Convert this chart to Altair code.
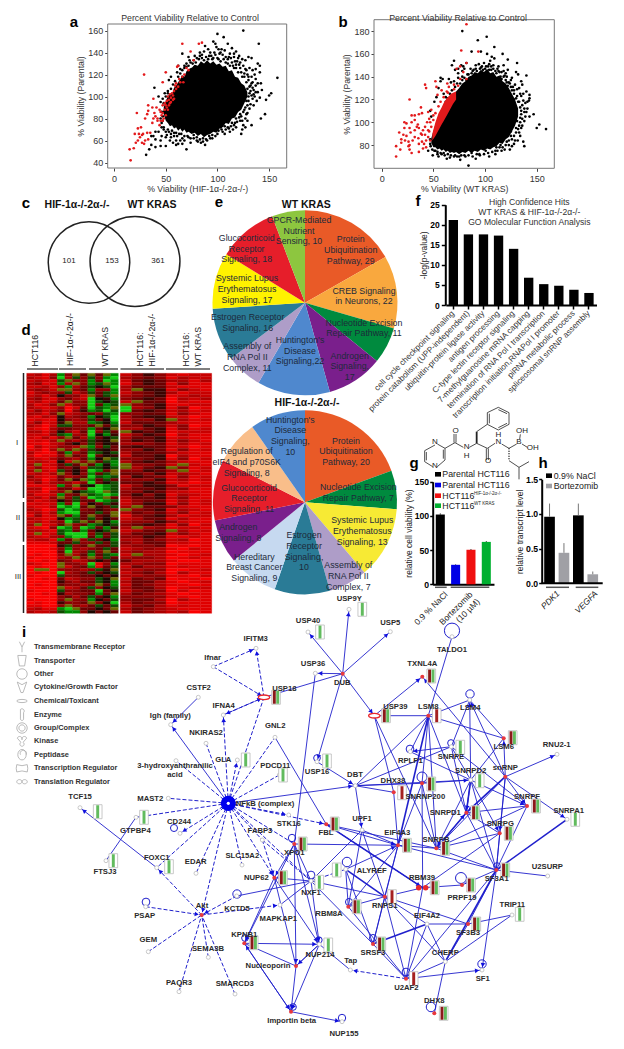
import math
import altair as alt
import pandas as pd

W, H = 608, 1033
FONT = "Liberation Sans"

# ---------- panel a ----------
a_blob_x = [48,50,52,54,56,58,60,62,64,66,68,70,72,75,78,81,84,87,90,93,96,99,102,105,108,111,114,117,120,123,126,129]
a_blob_lo = [84,78,76,73,74,71,72,69,71,68,70,67,68,66,67,64,66,63,65,66,68,67,71,72,76,75,80,81,86,88,94,100]
a_blob_hi = [90,96,100,103,102,108,110,113,116,119,118,123,125,126,129,128,132,130,133,130,132,129,130,127,128,123,124,118,117,112,110,104]
a_black = [(125,160),(100,157),(106,154),(96,150),(98,148),(99,145),(101,143),(110,148),(114,144),(140,148),(91,143),(88,146),(103,140),(108,136),(113,135),(118,141),(116,139),(120,135),(122,131),(127,133),(133,135),(130,136),(139,130),(141,128),(137,125),(141,122),(136,120),(128,124),(134,113),(142,112),(143,106),(139,104),(141,99),(147,97),(158,117),(150,101),(152,103),(146,84),(142,80),(133,74),(127,72),(125,74),(124,70),(123,66),(129,85),(127,80),(122,78),
(70,52),(50,55),(57,58),(60,56),(66,57),(62,57),(45,55),(40,54),(36,56),(31,47),(34,52),(77,62),(84,58),(90,60),(74,58),(68,60),(60,60),(55,63),(50,63),(46,64),(43,68),(40,68),(38,64),(36,64),(45,60),(40,61),(95,65),(92,68),(105,68),(103,72),(110,72),
(39,108),(43,100),(45,95),(47,98),(49,103),(52,105),(53,115),(55,118),(61,122),(66,139),(62,128),(64,125),(66,118),(68,128),(75,125),(78,127),(72,136),(80,135),(85,138),(92,137),(95,134),(100,135),(105,138),(110,130),(115,128),(118,126),(123,122),(126,118),(130,115),(132,110),(135,106),(131,103),(134,98),(132,93),(129,92),(126,88),(122,84),(118,80),(114,76),(108,70),(100,66),(93,62),(86,62),(80,63),(72,63),(65,66),(60,67),(56,69),(52,70),(48,72),(46,76),(47,82),(48,86),(119,132),(125,128),(112,139),(107,142),(97,140),(83,140),(76,130),(70,130),(137,110),(139,112),(133,118),(136,100),(129,78),(118,72),(115,70)]
a_edge = [(72,128),(74,131),(77,133),(79,131),(82,134),(85,135),(87,133),(89,136),(91,134),(94,137),(96,135),(98,138),(101,134),(103,132),(106,134),(108,131),(110,134),(112,128),(114,131),(116,126),(118,129),(120,122),(122,126),(124,118),(126,121),(128,113),(130,118),(131,109),(133,112),(129,107),(132,105),(130,100),(133,101),(130,96),(128,96),(131,89),(127,90),(125,86),(123,82),(121,81),(119,77),(116,74),(113,73),(111,71),(107,73),(104,70),(101,69),(98,64),(95,62),(92,64),(89,61),(86,59),(83,61),(80,60),(77,65),(74,62),(71,64),(68,64),(66,62),(63,66),(61,64),(58,67),(55,66),(53,68),(50,68),(48,70),(46,72),(47,78),(45,80),(46,86),(48,94),(50,100),(52,103),(55,107),(57,111),(59,114),(62,118),(64,121),(66,124),(68,126),(70,127),(73,133),(83,137),(93,140),(102,139),(111,136),(117,132),(121,129),(127,125),(129,120),(134,108),(137,104),(138,96),(135,92),(128,84),(124,78),(117,76),(112,68),(107,66),(88,56),(81,59),(64,60),(54,60),(58,64),(51,65),(121,137),(124,134),(131,126),(134,124),(137,116),(135,102),(116,136),(87,141),(78,137),(104,143)]
a_red = [(16,42),(15,52),(19,53),(21,58),(23,60),(25,63),(27,58),(29,57),(30,60),(24,66),(20,66),(23,71),(26,72),(28,66),(32,67),(35,67),(33,61),(27,65),(22,85),(29,120),(30,80),(32,84),(33,87),(33,92),(37,90),(38,80),(39,85),(37,76),(40,82),(42,80),(44,74),(45,78),(46,83),(42,78),(45,86),(47,92),(49,88),(47,85),(50,92),(51,96),(53,97),(55,99),(57,101),(58,98),(55,95),(53,92),(51,90),(49,94),(52,88),(48,80),(47,78),(50,83),(54,94),(58,105),(56,103),(60,107),(62,109),(64,113),(60,112),(66,118),(68,120),(70,126),(72,124),(67,113),(63,116),(59,110),(66,148),(74,141),(82,148),(85,149),(77,133),(61,127),(62,128),(50,122),(47,113),(38,98),(41,90),(44,88),(57,97),(52,100),(54,102)]

# ---------- panel b ----------
b_blob_x = [48,50,52,54,56,58,60,62,64,66,68,70,72,75,78,81,84,87,90,93,96,99,102,105,108,111,114,117,120,123,126,129,132]
b_blob_lo = [82,78,78,76,77,75,76,74,75,73,74,73,74,72,74,73,75,73,75,74,76,75,77,76,78,79,82,81,85,87,92,97,105]
b_blob_hi = [86,92,98,101,105,107,110,112,116,118,121,125,127,130,134,136,140,141,144,143,146,144,147,143,144,140,141,136,134,130,125,120,112]
b_red_x = [49,52,55,58,60,63,66,69,72]
b_red_lo = [84,88,93,98,101,106,111,116,120]
b_red_hi = [90,100,108,113,117,121,124,126,127]
b_black = [(101.6,175),(93,172),(78,180),(109,166),(87,162),(96,162),(102,160),(106.5,157.5),(109,156),(105,154),(117,160),(122,155),(131,152),(130,144),(132,142),(140,141),(136,133),(140,127),(143,124),(143,121),(142.5,119),(139,117),(138,109),(140,109),(147,107),(143,105),(152.5,98),(150,95),(159,94),(137,83),(131.6,84),(126,79),(119,76),(138,79),(135,95),(133,91),(131,101),(127,108),(120,143),(118,145),(119,141),(121,135),
(70,154),(68,150),(71,146),(74,147),(77,150),(79,149),(82,152),(86,147),(91,147),(96,148),(101,149),(106,149),(112,147),(57,139),(59,138),(57,136),(65,138),(67,135),(70,136),(84,62),(45,75),(49.4,71),(54,72),(58,72),(66,69),(75,70),(87,73),(94.5,72),(100.6,75),(47.4,79),(52,75),(61,71),(71,71),(80,71),(111,78),(115,80),(121,83),(126,85),(130,91),(133,97),(134,104),(135,110),(133,118),(131,123),(128,128),(125,131),(123,135),(115,140),(110,145),(104,146),(98,146),(88,145),(83,142),(78,140),(74,139),(114,144),(128,120),(136,115),(138,101),(125,92),(118,86),(112,83),(60,125),(62,122),(55,130),(47,110),(51,118),(48,105),(53,122)]
b_edge = [(76,134),(78,137),(80,139),(82,137),(84,142),(87,143),(89,146),(92,145),(95,147),(97,149),(100,147),(103,149),(106,146),(108,147),(111,143),(113,145),(116,138),(118,140),(120,137),(122,132),(124,134),(126,128),(128,125),(130,121),(132,118),(134,113),(135,107),(136,103),(134,100),(132,94),(130,95),(128,88),(125,88),(123,84),(120,80),(117,78),(114,78),(110,75),(107,74),(103,73),(99,72),(95,71),(92,72),(88,70),(84,71),(81,70),(77,71),(73,70),(70,70),(67,71),(64,72),(60,73),(57,73),(54,74),(51,75),(49,76),(47,81),(47,85),(62,118),(64,121),(66,125),(68,128),(71,131),(73,134),(91,150),(94,151),(99,152),(104,151),(108,150),(113,149),(116,144),(121,140),(125,137),(129,133),(131,129),(134,125),(137,119),(138,112),(136,97),(134,88),(129,84),(123,80),(116,75),(110,72),(104,70),(91,68),(76,67),(63,68),(55,70),(74,143),(78,145),(80,147),(127,131),(133,130),(137,125),(141,112),(139,105),(128,81),(124,76),(112,75),(141,118),(135,123),(135,136),(126,139),(122,146),(118,150)]
b_red = [(82,186),(77,163),(93.5,162),(27,120),(14,70),(14,79),(18,76),(26,79),(27,76),(29,73),(36,74),(40,77),(43,78),(17,91),(21,89),(19,85),(22.6,84),(19,82),(26,83),(27,80),(22,100),(24,99),(29,100),(22,95),(27,95),(32,93),(34,96),(36,95),(40,93),(42,96),(45,93),(39,89),(42,89),(45,87),(32,87),(35.5,86),(39,83),(29,106),(32,106),(36,107),(39,108),(38,113),(32,102),(45,109),(48,111),(50,106),(46,103),(42,133),(43,130),(52,136),(53,131),(54,124),(58,128),(63.5,134),(65,131),(72.5,147),(76,149),(82,152),(79,144),(76,138),(82,138),(70,133),(63,127),(68,124),(48,96),(46,92),(44,100),(47,100),(50,102),(52,108),(55,114),(57,118),(60,122),(64,126),(70,129),(74,132),(43,84),(41,81),(38,90),(35,98),(28,91),(24,88),(30,84),(36,81),(47,84)]

# ---------- panel d ----------
heat_rows = """2313 g4o5 o5og 2464 2122
3214 b3d4 d4gb 3454 1322
2321 do44 g5bg 2565 3313
3412 g3o4 gdog 1465 1411
2231 4g35 dxdb 3555 2111
3432 oo45 g44g 3o66 1421
1343 4d24 d5dg 2456 3122
2313 x442 o5do 3456 1232
3421 4532 bx6g 4565 0323
2312 5o44 bdxd 2o55 0211
3124 o244 b5gd o456 1122
3212 4025 bdgo b346 1401
2423 5046 gdbd b565 2312
3314 o234 54dg 4455 1421
2132 x345 gxdb 3566 2201
1211 x434 d5xb 3446 o312
2412 6o33 gdxg 2555 3211
3202 dd44 5o5d 4465 2401
2103 5544 g5xo 3356 1412
3313 x425 b4d5 o656 1222
2214 dg34 bxg6 2465 0311
2131 4o53 g5xd 3556 1211
1213 o435 d6xo 4656 2421
1102 35x4 d5x6 3345 1312
0312 443o g4d5 5655 2201
1203 o4o4 d6x5 4465 1412
3101 5g35 gdxd 3555 3211
2011 4o54 b5x6 2556 0311
3213 5435 gxod 4456 1402
2321 x2o4 o5dg 3565 3211
3o12 5d5o 5gxg o445 2o21
2411 5463 ddxd o356 o412
3o21 d5x5 bg5o 4465 3o12
2313 o4x4 g5do 5546 2321
4211 5345 bdgd 3654 1412
3302 5o6o g5d5 4446 2312
2413 4424 b5xd 5565 1201
1112 g4o6 xbgd 2466 4122
3301 5524 bbgd 3556 3411
2203 4oxd gbod 4465 2211
3112 g45o dgbg 4646 1321
2314 o4d4 bgo5 3556 2411
3123 x5d5 5bgd 2455 1312
1212 g4b3 x5d6 2466 1412
2113 bgb5 o65d 3o55 4211
3201 dbg4 5654 o456 1321
2313 gbb5 5d5o 3545 2412
1412 o5g5 o56o 1456 3122
3211 xgd5 d5x5 2355 1311
2313 4bdo 5oxg 3446 4211
3o12 5o45 gdxd 4565 1402
2104 bg4b g5g6 3o34 1221
3321 dg5g 5xdo 2355 o312
2o12 dbbb 4d5d 3556 2421
3213 4gbb 5g5d 4465 1121
2331 g5o4 d5xg 3354 2301
1112 55d4 4d5d 4355 2211
0000 6d45 o55d 3445 0101
0001 4g43 45d5 2343 1021
0000 5b34 d4o5 3433 0111
0100 4o35 g5dg 2o33 1012
1000 34o4 o4d5 3443 0121
0010 5423 5x5x 5333 1001
2100 o443 b14g 3344 0111
0100 o245 g15d 2533 1211
0oo0 4443 4d6o 3344 0012
0100 b345 d5xd 2453 0311
1000 d445 5x5x 3344 1102
0010 5234 4dxo 2545 0110
0000 6435 5dxg 3553 1012
0100 5443 4o5g 2543 1101
0000 o235 d4xd 3553 0122
1000 d445 5b5x 2454 0201
0010 6344 5g5o 3543 1011
0000 4535 d5xg 4444 1101
1000 4o44 gx5d 4553 0311
0100 6445 o4xb 3544 0111
1100 4o43 5d5d 2453 1211
2311 gbo5 5x5o 3543 2111
3223 dgg4 x5x5 2543 2301""".split("\n")
heat_colors = {"0":"#fa0000","1":"#e00000","2":"#c80000","3":"#ac0000","4":"#8e0000","5":"#6c0000","6":"#3c0500",
               "x":"#1c0800","o":"#6a6a00","d":"#104c00","g":"#008800","b":"#14d014"}

# ---------- panel e ----------
pie1_vals = [29,22,11,17,22,11,16,17,18,10]
pie1_cols = ["#E95A27","#F9A83E","#008A3E","#7A1F8C","#4F88CE","#AE9DC8","#2A7B96","#FFF200","#E61E2A","#8DC63F"]
pie2_vals = [20,7,13,7,10,9,8,11,8,10]
pie2_cols = ["#E95A27","#008A3E","#F7EA34","#AE9DC8","#2A7B96","#C6D9F0","#7A1F8C","#E61E2A","#F9BE8A","#4F88CE"]
pie_labels = [
 (299,230.7,"GPCR-Mediated\nNutrient\nSensing, 10"),(350.7,250,"Protein\nUbiquitination\nPathway, 29"),
 (246.7,248.7,"Glucocorticoid\nReceptor\nSignaling, 18"),(364,295.8,"CREB Signaling\nin Neurons, 22"),
 (247,289,"Systemic Lupus\nErythematosus\nSignaling, 17"),(247.7,322.3,"Estrogen Receptor\nSignaling, 16"),
 (364,328,"Nucleotide Excision\nRepair Pathway, 11"),(300,350.7,"Huntington's\nDisease\nSignaling,22"),
 (247.3,357,"Assembly of\nRNA Pol II\nComplex, 11"),(349.7,366.3,"Androgen\nSignaling,\n17"),
 (290.3,435.7,"Huntington's\nDisease\nSignaling,\n10"),(346,451.3,"Protein\nUbiquitination\nPathway, 20"),
 (246.7,462,"Regulation of\neIF4 and p70S6K\nSignaling, 8"),(358.3,492.5,"Nucleotide Excision\nRepair Pathway, 7"),
 (249,498.3,"Glucocorticoid\nReceptor\nSignaling, 11"),(362.3,531,"Systemic Lupus\nErythematosus\nSignaling, 13"),
 (238.3,532.7,"Androgen\nSignaling, 8"),(304,551.3,"Estrogen\nReceptor\nSignaling,\n10"),
 (254.3,567.3,"Hereditary\nBreast Cancer\nSignaling, 9"),(348.3,576,"Assembly of\nRNA Pol II\nComplex, 7")]

# ---------- panel f ----------
f_cats = ["cell cycle checkpoint signaling","protein catabolism (UPP-independent)","ubiquitin-protein ligase activity","antigen processing","C-type lectin receptor signaling","7-methylguanosine mRNA capping","termination of RNA Pol I transcription","transcription initiation,RNAPol I promoter","piRNA metabolic process","spliceosomal snRNP assembly"]
f_vals = [21.2,17.6,17.6,17.3,14,6.8,5.2,4.8,3.8,3]

# ---------- panels g, h ----------
g_cats = ["NaCl","Parental","HIF","WT"]
g_vals = [102,28.5,50.5,62]
g_errs = [103.5,29.2,51.5,63]
g_cols = ["#000000","#0000E6","#F01010","#00B030"]
h_cats = ["PDK1 NaCl","PDK1 Bort","VEGFA NaCl","VEGFA Bort"]
h_vals = [0.96,0.44,0.98,0.13]
h_errs = [1.15,0.58,1.15,0.17]
h_cols = ["#000000","#A0A0A5","#000000","#A0A0A5"]

chem_solid = [(44,782,75,765),(44,782,44,815),(49,786,49,811),(44,815,68,830),(82,830,105,810),(105,810,105,775),(100,806,100,779),(82,762,105,775),
 (105,775,135,758),(132,758,132,732),(138,758,138,732),(135,758,160,772),(178,772,200,760),(200,725,232,703),
 (232,668,265,652),(265,652,297,668),(297,668,297,703),(297,703,265,720),(265,720,232,703),(232,703,232,668),(238,700,238,671),(265,659,291,671),(291,700,265,713),
 (200,760,232,775),(229,775,229,810),(235,775,235,810),(232,775,255,760),(275,762,297,775),(297,775,320,762),(329,748,331,733),(336,762,352,772),
 (297,812,327,832),(327,832,357,815),(327,832,327,868)]
chem_wedge = [(200,760,200,725)]
chem_dash = [(297,775,297,812)]
chem_atoms = [(75,757,"N"),(75,828,"N"),(137,722,"O"),(170,770,"N"),(170,798,"H"),(234,812,"O"),(265,755,"N"),(265,735,"H"),(327,757,"B"),(336,722,"OH"),(368,775,"OH")]

# ---------- panel i ----------
legend_names = ["Transmembrane Receptor","Transporter","Other","Cytokine/Growth Factor","Chemical/Toxicant","Enzyme","Group/Complex","Kinase","Peptidase","Transcription Regulator","Translation Regulator"]
legend_icons = ["M-0.5,-1L0,0L0,1M0.5,-1L0,0","M-0.8,-1L0.8,-1L0.5,1L-0.5,1Z","M-1,0A1,1 0 1 1 1,0A1,1 0 1 1 -1,0Z",
 "M-0.9,-1L0,-0.5L0.9,-1L0.2,1L-0.2,1Z","M-1,0A1,0.3 0 1 1 1,0A1,0.3 0 1 1 -1,0Z","M-0.3,-1A0.4,0.4 0 1 1 0.3,-0.4L0.3,0.8A0.3,0.3 0 1 1 -0.3,0.8Z",
 "M-1,0A1,1 0 1 1 1,0A1,1 0 1 1 -1,0ZM-0.6,0A0.6,0.6 0 1 1 0.6,0A0.6,0.6 0 1 1 -0.6,0Z","M-0.9,-0.6A0.4,0.4 0 1 1 0,-0.3A0.4,0.4 0 1 1 0.9,-0.6L0.2,0.2A0.4,0.4 0 1 1 -0.2,0.2Z",
 "M-0.8,0A0.8,1 0 1 1 0.8,0A0.8,1 0 1 1 -0.8,0ZM-0.3,0A0.6,0.6 0 1 1 0.8,0","M-1,-0.7Q0,-0.3 1,-0.7Q1.2,0 1,0.7Q0,0.3 -1,0.7Q-1.2,0 -1,-0.7Z",
 "M-1,0A0.5,0.4 0 1 1 0,0A0.5,0.4 0 1 1 1,0A0.5,0.4 0 1 1 0,0A0.5,0.4 0 1 1 -1,0Z"]
legend_y = [647,660.7,674,687.3,701,714.7,728,741.3,754.7,768.3,781.7]

nodes = {"NFkB":(228.3,803.3),"IFITM3":(256,648.3),"Ifnar":(213.3,666.7),"CSTF2":(198.3,697.3),"USP18":(264,697.3),"IFNA4":(223.3,715),"Igh":(170.7,724.7),"NKIRAS2":(206,743.3),"GNL2":(275,737.3),"GLA":(237.3,760),"3HAA":(176,760.7),"PDCD11":(279.3,775),"MAST2":(168.3,798.3),"TCF15":(80,807.7),"GTPBP4":(136,817.3),"CD244":(180,833.3),"STK16":(288.7,815),"FABP3":(262.3,840),"XPO1":(294.3,844),"FTSJ3":(106,860.7),"FOXC1":(156.7,867.7),"EDAR":(196,873.3),"SLC15A2":(242,865),"NUP62":(274.3,877.7),"NXF1":(311,881),"ALYREF":(345.7,869.3),"Akt":(201.7,915),"PSAP":(145.7,906.7),"KCTD5":(236.7,896),"MAPKAP1":(280,905),"GEM":(148.3,951.7),"KPNB1":(244.3,943.3),"SEMA3B":(208.3,957.3),"PAQR3":(179,991.7),"SMARCD3":(235,994),"Nucleoporin":(296,966),"Importin":(291,1011.7),"NUP214":(319.3,944.3),"RBM8A":(348.3,906.7),"Tap":(350.3,970),"NUP155":(342,1021.7),"USP9Y":(349,609.3),"USP40":(308,632),"USP5":(390.3,631.7),"TALDO1":(452,636.7),"TXNL4A":(422.3,676.7),"DUB":(342.7,673.7),"USP36":(315.3,673.3),"USP39":(374.3,715.7),"LSM8":(428.3,715.7),"LSM4":(469.7,700),"LSM6":(503.7,738.3),"RNU2":(557,754.3),"SNRPE":(451.3,746.7),"RPLP1":(410.3,751.7),"snRNP":(505.3,776.7),"SNRPD2":(470.7,780),"DBT":(355.3,785.7),"DHX38":(393.7,792.3),"SNRNP200":(422,783.3),"USP16":(317,761.7),"FBL":(326.3,824.3),"UPF1":(362,830),"EIF4A3":(398,845.3),"SNRPD1":(466.3,812.7),"SNRPF":(527,806),"SNRPA1":(567,819.3),"SNRPG":(499.7,833.3),"SNRPB":(436.3,848.3),"SF3A1":(496.3,870),"U2SURP":(547.7,876),"RBM39":(422.7,887.7),"PRPF19":(462,885),"RNPS1":(384.7,896.7),"TRIP11":(512,915),"SF3B3":(468,924),"EIF4A2":(427,924),"SRSF3":(373,944),"CHERP":(445.3,961.7),"U2AF2":(406,978.7),"SF1":(482,970),"DHX8":(434.3,1013.3)}
labels = [(265,804,"NFkB (complex)"),(255.7,639,"IFITM3"),(212.7,658,"Ifnar"),(198.7,688.3,"CSTF2"),(284.3,689,"USP18"),(223.7,706,"IFNA4"),(170.3,716,"Igh (family)"),(206,732.7,"NKIRAS2"),(275.3,726,"GNL2"),(223.3,760,"GLA"),(175,770,"3-hydroxyanthranilic\nacid"),(275.3,766,"PDCD11"),(150.3,799,"MAST2"),(80,797.3,"TCF15"),(135.3,830.7,"GTPBP4"),(179,822,"CD244"),(288.7,824,"STK16"),(260,831.3,"FABP3"),(294.3,853,"XPO1"),(105,872.3,"FTSJ3"),(156.7,858,"FOXC1"),(195.7,862,"EDAR"),(242.3,856,"SLC15A2"),(256.3,877.7,"NUP62"),(311,893.3,"NXF1"),(371.7,870.7,"ALYREF"),(202,906,"Akt"),(144.7,915.7,"PSAP"),(237,909.3,"KCTD5"),(278.3,919,"MAPKAP1"),(148.3,940,"GEM"),(244.3,934.7,"KPNB1"),(208,948.7,"SEMA3B"),(179,982.7,"PAQR3"),(234.7,984,"SMARCD3"),(268,966,"Nucleoporin"),(291.7,1021.3,"Importin beta"),(320,955.3,"NUP214"),(329,914.3,"RBM8A"),(350.7,961.3,"Tap"),(344,1033.7,"NUP155"),(349.3,599.3,"USP9Y"),(308,621,"USP40"),(390.3,622.7,"USP5"),(452,650.3,"TALDO1"),(422.3,664.3,"TXNL4A"),(342.3,682.7,"DUB"),(313,664,"USP36"),(395.3,707,"USP39"),(428.3,706.7,"LSM8"),(470.3,707.7,"LSM4"),(503.7,747,"LSM6"),(556.7,745,"RNU2-1"),(451,757,"SNRPE"),(410.3,761.3,"RPLP1"),(505.3,768,"snRNP"),(470.7,771,"SNRPD2"),(355,775.3,"DBT"),(393,780.7,"DHX38"),(425.3,796.7,"SNRNP200"),(317,771.7,"USP16"),(326,833.3,"FBL"),(362,819,"UPF1"),(397.3,833.3,"EIF4A3"),(445.3,812.7,"SNRPD1"),(527,797.3,"SNRPF"),(568.7,810.7,"SNRPA1"),(500.3,824.3,"SNRPG"),(436,839.7,"SNRPB"),(496.7,879.3,"SF3A1"),(547.3,867,"U2SURP"),(422,878.3,"RBM39"),(462,897.7,"PRPF19"),(384.7,906,"RNPS1"),(512.3,905.3,"TRIP11"),(468,933,"SF3B3"),(427,915.7,"EIF4A2"),(373,953.3,"SRSF3"),(445.3,952.7,"CHERP"),(406.3,988,"U2AF2"),(482.7,979,"SF1"),(434.3,1001,"DHX8")]
red_nodes = ["Akt","XPO1","NUP62","KPNB1","Nucleoporin","Importin","FBL","DUB","snRNP","SNRPD1","SNRPF","SNRPG","SNRPB","SF3A1","SF3B3","RNPS1","RBM8A","SRSF3","U2AF2","LSM6","LSM8","SNRNP200","EIF4A3","DHX38","TXNL4A","PRPF19","DHX8"]
glyphs_g = [("GLA",245.7,760),("PDCD11",283,775),("TCF15",97.7,811.7),("GTPBP4",144,817.3),("FTSJ3",113.3,860.7),("FOXC1",169,866.7),("NXF1",319.3,882.3),("ALYREF",336.7,870),("NUP214",328.3,945),("USP9Y",362.3,609.3),("USP40",320,632),("SNRPE",460.3,747.3),("SNRPD2",479.7,780.7),("USP16",327,761),("SNRPA1",575.3,819.3),("TRIP11",519.7,914.3)]
glyphs_rg = [("USP18",276,697.3),("XPO1",302.7,844),("NUP62",283,877.7),("KPNB1",253.7,942.7),("RBM8A",356.7,906.7),("TXNL4A",431.3,676),("USP39",386,715.7),("LSM6",512.7,737.7),("SNRNP200",431.3,784),("FBL",334.7,824),("EIF4A3",407,845.3),("SNRPD1",475.3,812.7),("SNRPF",536,806),("SNRPG",508.7,833.3),("SNRPB",445.3,848.3),("SF3A1",505.3,870),("RBM39",434.7,887.7),("PRPF19",471,885),("SF3B3",476.3,924),("SRSF3",381.3,944),("DHX8",443.7,1013.3)]
glyphs_r = [("LSM8",436.7,715.7),("DHX38",402,792.7),("RNPS1",392,896.7),("U2AF2",413.7,978.7)]
loops = [(292,838,55),(146,902,60),(237,894,70),(245,938,45),(174,828,50),(347,862,90),(311,875,60),(452,630.7,230),(470,694,70),(451,743,45),(410,749,60),(422,777,100),(461,878,120),(349,902,50),(373,938,50),(406,972,60),(482,964,70),(342,1018,55),(431,1007,90),(293,1007,45),(317,758,45),(497,866,45),(319,940,40)]

edge_arrow = [("CSTF2","Igh"),("NFkB","Igh"),("FOXC1","TCF15"),("DUB","USP36"),("DUB","USP39"),("DUB","USP5"),("DUB","USP40"),("DUB","USP16"),("DUB","USP9Y"),("NFkB","DBT"),("USP16","DBT"),("USP39","TXNL4A"),("snRNP","TXNL4A"),("snRNP","LSM4"),("SNRPD2","LSM4"),("snRNP","LSM6"),("snRNP","RNU2"),("snRNP","SNRPF"),("snRNP","SNRPA1"),("snRNP","SNRPD1"),("snRNP","SNRPG"),("SNRPD2","SNRPD1"),("SNRPD2","SNRPF"),("SNRPD2","SNRPG"),("SNRPD2","SNRPB"),("SNRNP200","SNRPD2"),("SNRPE","RPLP1"),("SNRPB","SNRPD1"),("SF3A1","PRPF19"),("SF3A1","SF1"),("FBL","EIF4A3"),("ALYREF","EIF4A3"),("U2AF2","SF1"),("NXF1","NUP214"),("XPO1","KPNB1"),("XPO1","NUP214"),("NUP62","KPNB1"),("NUP62","NUP214"),("KPNB1","NUP214"),("KPNB1","Importin"),("Importin","KPNB1"),("Nucleoporin","Importin"),("NUP214","Nucleoporin"),("Importin","NUP155"),("DBT","UPF1"),("FBL","RBM39"),("XPO1","NUP62"),("NUP214","Importin"),("XPO1","Nucleoporin")]
edge_plain = [("FTSJ3","GTPBP4"),("DUB","USP18"),("USP36","XPO1"),("GNL2","FBL"),("TALDO1","LSM8"),("LSM8","LSM4"),("LSM8","LSM6"),("LSM8","SNRNP200"),("LSM8","SNRPD1"),("LSM8","RPLP1"),("LSM8","DBT"),("USP39","LSM8"),("USP39","SNRPB"),("USP39","DHX38"),("LSM4","LSM6"),("LSM4","SNRPE"),("snRNP","SF3A1"),("snRNP","SNRPB"),("SNRPD2","SF3A1"),("SNRPD2","LSM6"),("SNRPD2","SNRPE"),("SNRPD2","RPLP1"),("SNRPE","SNRPD1"),("SNRPE","SNRPF"),("SNRPD1","SNRPF"),("SNRPD1","SNRPG"),("SNRPD1","SF3A1"),("SNRPB","SNRPF"),("SNRPB","SNRPG"),("SNRPB","EIF4A3"),("SNRPB","SF3A1"),("EIF4A3","SF3A1"),("SNRPF","SF3A1"),("SNRPG","SF3A1"),("SF3A1","U2SURP"),("SF3A1","SF3B3"),("SF3A1","U2AF2"),("RBM39","PRPF19"),("RBM39","U2AF2"),("RBM39","RNPS1"),("RBM39","SNRPG"),("SF3B3","TRIP11"),("SF3B3","EIF4A2"),("CHERP","TRIP11"),("CHERP","EIF4A2"),("SF3B3","CHERP"),("SRSF3","EIF4A3"),("SRSF3","RNPS1"),("SRSF3","U2AF2"),("SRSF3","ALYREF"),("U2AF2","CHERP"),("U2AF2","RNPS1"),("U2AF2","RBM8A"),("U2AF2","EIF4A2"),("DHX8","CHERP"),("DHX38","DBT"),("DHX38","EIF4A3"),("UPF1","EIF4A3"),("UPF1","RNPS1"),("UPF1","RBM8A"),("UPF1","NXF1"),("FBL","SNRPB"),("ALYREF","RBM8A"),("RBM8A","RNPS1"),("RBM8A","EIF4A3"),("RNPS1","NXF1"),("RNPS1","EIF4A3"),("RNPS1","SF3B3"),("RNPS1","CHERP"),("RNPS1","EIF4A2"),("NXF1","MAPKAP1"),("NXF1","XPO1"),("NXF1","NUP62"),("NXF1","SRSF3"),("Nucleoporin","KPNB1"),("NUP62","Nucleoporin"),("Nucleoporin","NUP214"),("NUP214","Tap"),("KCTD5","NXF1"),("DBT","SNRPE"),("DBT","SNRPD2"),("DBT","SNRNP200"),("SNRNP200","EIF4A3"),("SNRNP200","SNRPB"),("SNRNP200","RBM39"),("LSM8","SNRPB"),("XPO1","EIF4A3")]
edge_bold = [("LSM8","EIF4A3"),("SNRPA1","SF3A1"),("SF3A1","CHERP"),("SRSF3","EIF4A2"),("ALYREF","RNPS1"),("FBL","RBM39"),("SNRPD1","SNRPB"),("SNRPD1","snRNP"),("SNRPD2","SNRPD1")]
edge_dash_arrow = [("Ifnar","IFITM3"),("Ifnar","USP18"),("USP18","IFITM3"),("USP18","IFNA4"),("IFNA4","USP18"),("NFkB","IFNA4"),("NFkB","GLA"),("NFkB","CD244"),("NFkB","STK16"),("NFkB","NUP62"),("NFkB","Akt"),("PSAP","Akt"),("KCTD5","Akt"),("Akt","MAPKAP1"),("Akt","FOXC1"),("U2AF2","Tap"),("FABP3","NUP62"),("NFkB","FBL")]
edge_dash = [("NFkB","USP18"),("NFkB","NKIRAS2"),("NFkB","3HAA"),("NFkB","MAST2"),("NFkB","PDCD11"),("NFkB","GTPBP4"),("NFkB","FOXC1"),("NFkB","EDAR"),("NFkB","SLC15A2"),("NFkB","FABP3"),("NFkB","XPO1"),("NFkB","GNL2"),("NFkB","NXF1"),("GEM","Akt"),("PAQR3","Akt"),("SEMA3B","Akt"),("SMARCD3","Akt"),("FABP3","NXF1"),("ALYREF","NXF1")]

# ---------- helpers ----------
def sc(d0, d1, p0, p1):
    return alt.Scale(domain=[d0, d1], range=[p0 - 8, p1 - 8], nice=False, zero=False)

def PX():
    return sc(0, 624, 0, 624)

def PY():
    return sc(0, 1049, 0, 1049)

def XA(bottom, **kw):
    return alt.Axis(orient="bottom", offset=bottom - 8 - H, grid=False, labelFont=FONT, titleFont=FONT, **kw)

def YA(left, **kw):
    return alt.Axis(orient="left", offset=-(left - 8), grid=False, labelFont=FONT, titleFont=FONT, **kw)

def txt(rows, size=8.5, bold=False, align="center", angle=0, color="#222222", italic=False, lh=None):
    lh = lh or size * 1.2
    if angle == 0:
        rows = [(x, y - t.count("\n") * lh / 2, t) for x, y, t in rows]
    df = pd.DataFrame(rows, columns=["x", "y", "t"])
    kw = {}
    if bold:
        kw["fontWeight"] = "bold"
    if italic:
        kw["fontStyle"] = "italic"
    return alt.Chart(df).mark_text(font=FONT, fontSize=size, align=align, baseline="middle", angle=angle, color=color,
                                   lineBreak="\n", lineHeight=lh, **kw).encode(
        x=alt.X("x:Q", scale=PX(), axis=None), y=alt.Y("y:Q", scale=PY(), axis=None), text="t:N")

def rects(rows):
    df = pd.DataFrame(rows, columns=["x", "y", "x2", "y2", "c"])
    return alt.Chart(df).mark_rect().encode(x=alt.X("x:Q", scale=PX(), axis=None), x2="x2:Q",
        y=alt.Y("y:Q", scale=PY(), axis=None), y2="y2:Q", fill=alt.Fill("c:N", scale=None))

def rules(rows, color="#000000", width=1.0, dash=None, xs=None, ys=None):
    df = pd.DataFrame(rows, columns=["x", "y", "x2", "y2"])
    kw = {"strokeDash": dash} if dash else {}
    return alt.Chart(df).mark_rule(color=color, strokeWidth=width, **kw).encode(
        x=alt.X("x:Q", scale=xs or PX(), axis=None), x2="x2:Q",
        y=alt.Y("y:Q", scale=ys or PY(), axis=None), y2="y2:Q")

def dots(pts, xs, ys, color, size=7):
    df = pd.DataFrame(pts, columns=["x", "y"]) if not isinstance(pts, pd.DataFrame) else pts
    return alt.Chart(df).mark_circle(color=color, size=size, opacity=1).encode(
        x=alt.X("x:Q", scale=xs, axis=None), y=alt.Y("y:Q", scale=ys, axis=None))

def blob(xv, lo, hi, xs, ys, color):
    df = pd.DataFrame({"x": xv, "lo": lo, "hi": hi})
    return alt.Chart(df).mark_area(color=color, opacity=1).encode(
        x=alt.X("x:Q", scale=xs, axis=None), y=alt.Y("lo:Q", scale=ys, axis=None), y2="hi:Q")

def frame_axes(xs, ys, bottom, left, xvals, yvals, xtitle, ytitle, d):
    df = pd.DataFrame({"x": [d[0]], "x2": [d[1]], "y": [d[2]], "y2": [d[3]]})
    return alt.Chart(df).mark_rect(fill="white", stroke="#777777", strokeWidth=1).encode(
        x=alt.X("x:Q", scale=xs, axis=XA(bottom, values=xvals, title=xtitle, domain=False, tickColor="#444444", tickSize=3,
                labelFontSize=9, labelColor="#333333", titleFontSize=8.7, titleFontWeight="normal", titleColor="#333333", titlePadding=1, labelPadding=3, format="d")),
        x2="x2:Q",
        y=alt.Y("y:Q", scale=ys, axis=YA(left, values=yvals, title=ytitle, domain=False, tickColor="#444444", tickSize=3,
                labelFontSize=9, labelColor="#333333", titleFontSize=8.7, titleFontWeight="normal", titleColor="#333333", titlePadding=2, labelPadding=2, format="d")),
        y2="y2:Q")

layers = []

# panels a, b
ax, ay = sc(-6.2, 167, 107.7, 286.7), sc(35, 166, 168, 24)
layers += [frame_axes(ax, ay, 168, 107.7, [0,50,100,150], [40,60,80,100,120,140,160], "% Viability (HIF-1\u03b1-/-2\u03b1-/-)", "% Viability (Parental)", (-6.2,167,35,166)),
           blob(a_blob_x, a_blob_lo, a_blob_hi, ax, ay, "#000000"), dots(a_black + a_edge, ax, ay, "#000000"), dots(a_red, ax, ay, "#E31A1C")]
bx, by = sc(-7.4, 167, 374, 554.3), sc(59.6, 190, 168.3, 19.7)
layers += [frame_axes(bx, by, 168.3, 374, [0,50,100,150], [80,100,120,140,160,180], "% Viability (WT KRAS)", "% Viability (Parental)", (-7.4,167,59.6,190)),
           blob(b_blob_x, b_blob_lo, b_blob_hi, bx, by, "#000000"), dots(b_black + b_edge, bx, by, "#000000"),
           blob(b_red_x, b_red_lo, b_red_hi, bx, by, "#E31A1C"), dots(b_red, bx, by, "#E31A1C")]
layers.append(txt([(190,18,"Percent Viability Relative to Control"),(458,18,"Percent Viability Relative to Control")], size=8.8, color="#333333"))

# panel letters
layers.append(txt([(74,22,"a"),(343,22,"b"),(26,203,"c"),(26,330,"d"),(219,202,"e"),(418,201,"f"),(414,463,"g"),(543,463,"h"),(24,632,"i")], size=15, bold=True, color="#000000"))

# panel c
venn = pd.DataFrame({"x": [89, 135], "y": [262.5, 261.5], "s": [math.pi * 46 * 46, math.pi * 50.7 * 50.7]})
layers.append(alt.Chart(venn).mark_point(shape="circle", filled=False, stroke="#222222", strokeWidth=1.5, opacity=1).encode(
    x=alt.X("x:Q", scale=PX(), axis=None), y=alt.Y("y:Q", scale=PY(), axis=None), size=alt.Size("s:Q", scale=None)))
layers.append(txt([(77,205,"HIF-1\u03b1-/-2\u03b1-/-"),(152,205,"WT KRAS")], size=10.5, bold=True, color="#111111"))
layers.append(txt([(69,261,"101"),(112,261,"153"),(158,261,"361")], size=8, color="#222222"))

# panel d
cells = []
for r, row in enumerate(heat_rows):
    chars = row.replace(" ", "")
    for c, ch in enumerate(chars):
        cells.append({"r": r, "c": c, "f": heat_colors[ch]})
cells = pd.DataFrame(cells)
rows_dom = list(range(len(heat_rows)))
def heat(cols, x0, x1):
    d = cells[cells["c"].isin(cols)]
    return alt.Chart(d).mark_rect(strokeWidth=0.3).encode(
        x=alt.X("c:O", axis=None, scale=alt.Scale(domain=cols, range=[x0 - 8, x1 - 8])),
        y=alt.Y("r:O", axis=None, scale=alt.Scale(domain=rows_dom, range=[373.3 - 8, 613.3 - 8])),
        fill=alt.Fill("f:N", scale=None), stroke=alt.Stroke("f:N", scale=None))
layers += [heat(list(range(12)), 26.7, 118.3), heat(list(range(12, 20)), 120.3, 211.7)]
layers.append(rules([(23.5,373,23.5,498),(23.5,502,23.5,541.7),(23.5,545,23.5,613)], color="#222222", width=1.5))
layers.append(rules([(27,369,58,369),(59,369,86,369),(89,369,118,369),(120.5,369,164,369),(166,369,210,369)], color="#555555", width=1.5))
layers.append(txt([(17,443,"I"),(18,518,"II"),(18,577,"III")], size=8, color="#333333"))
layers.append(txt([(35,366.5,"HCT116"),(70,366,"HIF-1\u03b1-/-2\u03b1-/-"),(105,366.5,"WT KRAS"),(140,366.5,"HCT116:\nHIF-1\u03b1-/-2\u03b1-/-"),(186,366.5,"HCT116:\nWT KRAS")],
                  size=8.7, align="left", angle=270, color="#222222", lh=12))

# panel e
def pie(vals, cols, cx, cy, r):
    df = pd.DataFrame({"v": vals, "c": cols, "i": list(range(len(vals)))})
    return alt.Chart(df).mark_arc(outerRadius=r).encode(
        theta=alt.Theta("v:Q", stack=True, scale=alt.Scale(domain=[0, sum(vals)])), order=alt.Order("i:Q"),
        fill=alt.Fill("c:N", scale=None), x=alt.value(cx - 8), y=alt.value(cy - 8))
layers += [pie(pie1_vals, pie1_cols, 305, 302.8, 92.5), pie(pie2_vals, pie2_cols, 305, 502.3, 92)]
layers.append(txt([(306.3,204.7,"WT KRAS"),(307,402.7,"HIF-1\u03b1-/-2\u03b1-/-")], size=10.5, bold=True, color="#111111"))
layers.append(txt(pie_labels, size=8.8, color="#1d2a3a", lh=10.6))

# panel f
fdf = pd.DataFrame({"k": f_cats, "v": f_vals})
layers.append(alt.Chart(fdf).mark_bar(color="#000000").encode(
    x=alt.X("k:N", sort=None, scale=alt.Scale(domain=f_cats, range=[445.8 - 8, 596.5 - 8], paddingInner=0.38, paddingOuter=0.19),
            axis=XA(305, title=None, labelAngle=-45, labelAlign="right", labelBaseline="middle", labelLimit=300, labelFontSize=8.2, labelColor="#333333",
                    labelOverlap=False, labelBound=False, labelPadding=3, tickSize=4, tickWidth=1.5, tickColor="#000000", domainWidth=2, domainColor="#000000")),
    y=alt.Y("v:Q", scale=sc(0, 25, 305, 204.7),
            axis=YA(445.3, values=[0,5,10,15,20,25], title="-log(p-value)", format="d", labelFontSize=8.5, labelFontWeight="bold", labelColor="#000000", tickSize=4, tickWidth=1.5,
                    tickColor="#000000", domainWidth=2, domainColor="#000000", titleFontSize=8.5, titleFontWeight="normal", titleColor="#222222", titlePadding=1, labelPadding=2))))
layers.append(txt([(529.3,202,"High Confidence Hits"),(529.3,212,"WT KRAS & HIF-1\u03b1-/-2\u03b1-/-"),(529.3,222,"GO Molecular Function Analysis")], size=8.6, color="#333333"))

# chemical structure
cx_, cy_ = sc(0, 642, 410, 624), sc(0, 1290, 190, 620)
layers.append(rules(chem_solid, color="#222222", width=0.8, xs=cx_, ys=cy_))
layers.append(rules(chem_wedge, color="#222222", width=1.8, xs=cx_, ys=cy_))
layers.append(rules(chem_dash, color="#222222", width=1.5, dash=[1, 1.5], xs=cx_, ys=cy_))
chem_df = pd.DataFrame(chem_atoms, columns=["x", "y", "t"])
layers.append(alt.Chart(chem_df).mark_text(font=FONT, fontSize=8, color="#222222").encode(
    x=alt.X("x:Q", scale=cx_, axis=None), y=alt.Y("y:Q", scale=cy_, axis=None), text="t:N"))

# panel g
gx = alt.Scale(domain=g_cats, range=[432.63 - 8, 493.97 - 8], paddingInner=0.41, paddingOuter=0.205)
gy = sc(0, 150, 584.3, 481.7)
gdf = pd.DataFrame({"k": g_cats, "v": g_vals, "e": g_errs, "c": g_cols})
layers.append(alt.Chart(gdf).mark_bar().encode(
    x=alt.X("k:N", sort=None, scale=gx, axis=XA(584.3, title=None, labels=False, ticks=False, domainWidth=2, domainColor="#000000")),
    y=alt.Y("v:Q", scale=gy, axis=YA(432.7, values=[0,50,100,150], title="relative cell viability (%)", format="d", labelFontSize=8.7, labelFontWeight="bold", labelColor="#000000",
            tickSize=3, tickWidth=1.5, tickColor="#000000", domainWidth=2, domainColor="#000000", titleFontSize=8.5, titleFontWeight="normal", titleColor="#222222", titlePadding=1, labelPadding=1)),
    fill=alt.Fill("c:N", scale=None)))
layers.append(alt.Chart(gdf).mark_rule(color="#000000", strokeWidth=1).encode(
    x=alt.X("k:N", sort=None, scale=gx, axis=None), y=alt.Y("v:Q", scale=gy, axis=None), y2="e:Q"))
layers.append(rules([(435,587.3,446.7,587.3),(450.7,587.3,489.3,587.3),(546,587.3,569,587.3),(575.7,587.3,598.3,587.3)], color="#555555", width=1.5))
layers.append(rects([(435,472,441,476.6,"#000000"),(435,482.7,441,487.3,"#0000E6"),(435,493.4,441,498,"#F01010"),(435,503.4,441,508,"#00B030"),(546,473.4,552,478,"#000000"),(546,483.7,552,488.3,"#A0A0A5")]))
layers.append(txt([(442.3,474.3,"Parental HCT116"),(442.3,485,"Parental HCT116"),(442.3,495.7,"HCT116"),(442.3,505.7,"HCT116"),(553.7,475.7,"0.9% NaCl"),(553.7,486,"Bortezomib")], size=8.8, align="left", color="#222222"))
layers.append(txt([(474,494,"HIF-1\u03b1-/-2\u03b1-/-"),(474,504,"WT KRAS")], size=4.5, align="left", color="#222222"))
layers.append(txt([(446,593,"0.9 % NaCl"),(471,593,"Bortezomib\n(10 \u00b5M)")], size=8.5, align="right", angle=315, color="#222222", lh=10))
layers.append(txt([(558,592,"PDK1"),(596,592,"VEGFA")], size=8.5, align="right", angle=315, italic=True, color="#222222"))

# panel h
hx = alt.Scale(domain=h_cats, range=[544.2 - 8, 598.1 - 8], paddingInner=0.26, paddingOuter=0.0)
hy = sc(0, 1.5, 583.3, 479.3)
hdf = pd.DataFrame({"k": h_cats, "v": h_vals, "e": h_errs, "c": h_cols})
layers.append(alt.Chart(hdf).mark_bar().encode(
    x=alt.X("k:N", sort=None, scale=hx, axis=None),
    y=alt.Y("v:Q", scale=hy, axis=YA(541.7, values=[0,0.5,1,1.5], title="relative transcript level", format=".1f", labelFontSize=8.7, labelFontWeight="bold", labelColor="#000000",
            tickSize=3, tickWidth=1.5, tickColor="#000000", domainWidth=2, domainColor="#000000", titleFontSize=8.5, titleFontWeight="normal", titleColor="#222222", titlePadding=1, labelPadding=1)),
    fill=alt.Fill("c:N", scale=None)))
layers.append(alt.Chart(hdf).mark_rule(color="#777777", strokeWidth=1).encode(
    x=alt.X("k:N", sort=None, scale=hx, axis=None), y=alt.Y("v:Q", scale=hy, axis=None), y2="e:Q"))
layers.append(rules([(541.7,583.3,602.7,583.3)], color="#000000", width=2))

# panel i legend
ldf = pd.DataFrame({"x": [22] * len(legend_y), "y": legend_y, "p": legend_icons})
layers.append(alt.Chart(ldf).mark_point(size=110, filled=False, stroke="#aaaaaa", strokeWidth=0.8, opacity=1).encode(
    x=alt.X("x:Q", scale=PX(), axis=None), y=alt.Y("y:Q", scale=PY(), axis=None), shape=alt.Shape("p:N", scale=None)))
layers.append(txt([(34, y, n) for y, n in zip(legend_y, legend_names)], size=7.4, bold=True, align="left", color="#333333"))

# network edges
BLUE = "#2020CC"
def seg(pairs):
    return [(nodes[a][0], nodes[a][1], nodes[b][0], nodes[b][1]) for a, b in pairs]
layers.append(rules(seg(edge_plain + edge_arrow), color=BLUE, width=0.9))
layers.append(rules(seg(edge_bold), color=BLUE, width=1.6))
layers.append(rules(seg(edge_dash + edge_dash_arrow), color=BLUE, width=1.0, dash=[4, 2]))
heads = []
for a, b in edge_arrow + edge_dash_arrow:
    x1, y1 = nodes[a]; x2, y2 = nodes[b]
    L = math.hypot(x2 - x1, y2 - y1) or 1
    heads.append({"x": x2 - 5 * (x2 - x1) / L, "y": y2 - 5 * (y2 - y1) / L,
                  "a": (math.degrees(math.atan2(x2 - x1, -(y2 - y1))) + 360) % 360})
layers.append(alt.Chart(pd.DataFrame(heads)).mark_point(shape="triangle-up", filled=True, size=22, color="#1010DD", opacity=1).encode(
    x=alt.X("x:Q", scale=PX(), axis=None), y=alt.Y("y:Q", scale=PY(), axis=None), angle=alt.Angle("a:Q", scale=None)))
ldf2 = pd.DataFrame(loops, columns=["x", "y", "s"])
layers.append(alt.Chart(ldf2).mark_point(shape="circle", filled=False, stroke=BLUE, strokeWidth=1, opacity=1).encode(
    x=alt.X("x:Q", scale=PX(), axis=None), y=alt.Y("y:Q", scale=PY(), axis=None), size=alt.Size("s:Q", scale=None)))
# nodes
ndf = pd.DataFrame([{"x": v[0], "y": v[1], "n": k} for k, v in nodes.items() if k not in red_nodes and k not in ("NFkB", "USP18", "USP39", "RBM39")])
layers.append(alt.Chart(ndf).mark_point(shape="circle", filled=True, size=16, fill="white", stroke="#bbbbbb", strokeWidth=0.8, opacity=1).encode(
    x=alt.X("x:Q", scale=PX(), axis=None), y=alt.Y("y:Q", scale=PY(), axis=None)))
rdf = pd.DataFrame([{"x": nodes[k][0], "y": nodes[k][1]} for k in red_nodes])
layers.append(dots(rdf, PX(), PY(), "#E8383D", size=16))
layers.append(dots([(nodes["RBM39"][0] - 4, nodes["RBM39"][1]), (nodes["RBM39"][0] + 3, nodes["RBM39"][1])], PX(), PY(), "#E8282D", size=30))
ell = pd.DataFrame([nodes["USP18"], nodes["USP39"]], columns=["x", "y"])
layers.append(alt.Chart(ell).mark_point(shape="M-1,0A1,0.4 0 1 1 1,0A1,0.4 0 1 1 -1,0Z", size=130, fill="white", filled=True, stroke="#E8282D", strokeWidth=1.3, opacity=1).encode(
    x=alt.X("x:Q", scale=PX(), axis=None), y=alt.Y("y:Q", scale=PY(), axis=None)))
hub = pd.DataFrame([nodes["NFkB"]], columns=["x", "y"])
layers.append(dots(hub, PX(), PY(), "#0000EE", size=230))
layers.append(dots(hub, PX(), PY(), "#ffffff", size=10))
# glyphs
allg = [(x, y) for _, x, y in glyphs_g + glyphs_rg + glyphs_r]
gl = pd.DataFrame(allg, columns=["x", "y"])
layers.append(alt.Chart(gl).mark_point(shape="M-0.62,-1H0.62V1H-0.62Z", size=196, fill="white", filled=True, stroke="#bbbbbb", strokeWidth=0.8, opacity=1).encode(
    x=alt.X("x:Q", scale=PX(), axis=None), y=alt.Y("y:Q", scale=PY(), axis=None)))
bars = [(x, y, "#62BB5E") for _, x, y in glyphs_g] + [(x - 1.7, y, "#8B1A1A") for _, x, y in glyphs_rg] + \
       [(x + 1.7, y, "#62BB5E") for _, x, y in glyphs_rg] + [(x, y, "#A52020") for _, x, y in glyphs_r]
bdf = pd.DataFrame(bars, columns=["x", "y", "c"])
layers.append(alt.Chart(bdf).mark_point(shape="M-0.21,-0.92H0.21V0.92H-0.21Z", size=196, filled=True, opacity=1).encode(
    x=alt.X("x:Q", scale=PX(), axis=None), y=alt.Y("y:Q", scale=PY(), axis=None), fill=alt.Fill("c:N", scale=None), stroke=alt.value(None)))
layers.append(txt(labels, size=7.7, bold=True, color="#2a2a2a", lh=9))

chart = alt.layer(*layers).resolve_scale(x="independent", y="independent", theta="independent").resolve_axis(
    x="independent", y="independent").properties(width=W, height=H, padding=0, autosize="none").configure_view(stroke=None)
chart.save("out.html", embed_options={"renderer": "svg", "actions": False})
